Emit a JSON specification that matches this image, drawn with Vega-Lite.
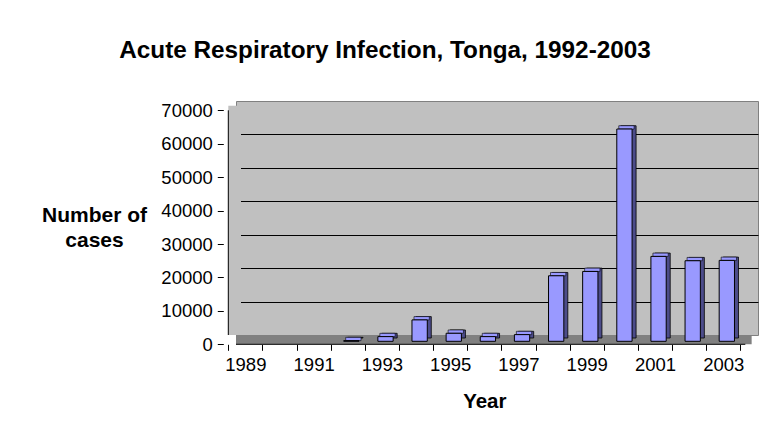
{
  "$schema": "https://vega.github.io/schema/vega-lite/v6.json",
  "width": 522,
  "height": 234,
  "autosize": {"type": "none"},
  "padding": {"left": 236, "top": 101, "right": 16, "bottom": 98},
  "background": "white",
  "config": {
    "font": "Liberation Sans",
    "view": {"fill": "#C0C0C0", "stroke": "#808080", "strokeWidth": 1}
  },
  "title": {
    "text": "Acute Respiratory Infection, Tonga, 1992-2003",
    "font": "Liberation Sans",
    "fontSize": 24.3,
    "fontWeight": "bold",
    "color": "black",
    "anchor": "middle",
    "frame": "group",
    "dx": -112,
    "offset": 36
  },
  "data": {
    "values": [
      {"year": 1992, "cases": 200},
      {"year": 1993, "cases": 1400},
      {"year": 1994, "cases": 6400},
      {"year": 1995, "cases": 2400},
      {"year": 1996, "cases": 1400},
      {"year": 1997, "cases": 2000},
      {"year": 1998, "cases": 19600},
      {"year": 1999, "cases": 20900},
      {"year": 2000, "cases": 63500},
      {"year": 2001, "cases": 25400},
      {"year": 2002, "cases": 24100},
      {"year": 2003, "cases": 24200}
    ]
  },
  "resolve": {"axis": {"x": "independent", "y": "independent"}},
  "layer": [
    {
      "data": {"values": [{}]},
      "mark": {"type": "rule", "stroke": "#C0C0C0", "strokeWidth": 12.7, "xOffset": -6.35, "yOffset": 4.65, "y2Offset": 4.65},
      "encoding": {
        "x": {"datum": 1988.5, "type": "quantitative", "scale": {"domain": [1988.5, 2003.5], "nice": false, "zero": false}, "axis": null}
      }
    },
    {
      "data": {"values": [{}]},
      "mark": {"type": "rule", "stroke": "#808080", "strokeWidth": 9.3, "yOffset": 4.65, "xOffset": -6.35, "x2Offset": -6.35},
      "encoding": {
        "y": {"datum": 0, "type": "quantitative", "scale": {"domain": [0, 70000], "nice": false}, "axis": null}
      }
    },
    {
      "data": {"values": [{}]},
      "mark": {"type": "rule", "stroke": "black", "strokeWidth": 1, "yOffset": 9.3, "xOffset": -12.7, "x2Offset": -12.7},
      "encoding": {
        "y": {"datum": 0, "type": "quantitative", "axis": null}
      }
    },
    {
      "data": {"values": [{}]},
      "mark": {"type": "rule", "stroke": "black", "strokeWidth": 1, "xOffset": -12.7, "yOffset": 9.3, "y2Offset": 9.3},
      "encoding": {
        "x": {"datum": 1988.5, "type": "quantitative", "axis": null}
      }
    },
    {
      "mark": {"type": "bar", "width": 15.3, "fill": "#4C4C8A", "stroke": "black", "strokeWidth": 0.8, "xOffset": -5.1, "yOffset": 3.0, "y2Offset": 3.0},
      "encoding": {
        "x": {
          "field": "year", "type": "quantitative",
          "scale": {"domain": [1988.5, 2003.5], "nice": false, "zero": false},
          "axis": {
            "orient": "bottom",
            "values": [1988.5, 1989.5, 1990.5, 1991.5, 1992.5, 1993.5, 1994.5, 1995.5, 1996.5, 1997.5, 1998.5, 1999.5, 2000.5, 2001.5, 2002.5, 2003.5],
            "labels": false, "domain": false, "grid": false,
            "ticks": true, "tickSize": 6, "tickColor": "black", "tickWidth": 1,
            "offset": 9.3, "tickOffset": -12.7, "title": null
          }
        },
        "y": {
          "field": "cases", "type": "quantitative",
          "scale": {"domain": [0, 70000], "nice": false},
          "axis": {
            "orient": "left",
            "values": [10000, 20000, 30000, 40000, 50000, 60000],
            "grid": true, "gridColor": "black", "gridWidth": 1, "gridOpacity": 1,
            "labels": false, "ticks": false, "domain": false, "title": null
          }
        }
      }
    },
    {
      "mark": {"type": "bar", "width": 15.3, "fill": "#9999FF", "stroke": "black", "strokeWidth": 0.6, "xOffset": -7.1, "yOffset": 3.0, "y2Offset": 6.3},
      "encoding": {
        "x": {
          "field": "year", "type": "quantitative",
          "axis": {
            "orient": "bottom",
            "values": [1989, 1991, 1993, 1995, 1997, 1999, 2001, 2003],
            "format": "d",
            "ticks": false, "tickSize": 0, "domain": false, "grid": false,
            "offset": 9.3, "tickOffset": -12.7,
            "labelPadding": 11.5, "labelFontSize": 18.5, "labelColor": "black",
            "labelFlush": false, "labelOverlap": false, "labelFont": "Liberation Sans",
            "title": "Year", "titleFontSize": 20.5, "titleFontWeight": "bold", "titleColor": "black",
            "titleFont": "Liberation Sans",
            "titleX": 248.3, "titleY": 62.7, "titleAlign": "center", "titleBaseline": "alphabetic"
          }
        },
        "y": {"field": "cases", "type": "quantitative", "axis": null},
        "y2": {"field": "cases"}
      }
    },
    {
      "mark": {"type": "bar", "width": 15.3, "fill": "#9999FF", "stroke": "black", "strokeWidth": 1, "xOffset": -9.1, "yOffset": 6.3, "y2Offset": 6.3},
      "encoding": {
        "x": {"field": "year", "type": "quantitative", "axis": null},
        "y": {
          "field": "cases", "type": "quantitative",
          "axis": {
            "orient": "left",
            "values": [0, 10000, 20000, 30000, 40000, 50000, 60000, 70000],
            "format": "d",
            "offset": 12.7, "tickOffset": 9.3,
            "tickSize": 6, "tickColor": "black", "tickWidth": 1,
            "domain": false, "grid": false,
            "labelPadding": 5, "labelFontSize": 18.5, "labelColor": "black", "labelFont": "Liberation Sans",
            "title": ["Number of", "cases"],
            "titleFont": "Liberation Sans",
            "titleAngle": 0, "titleAlign": "center", "titleBaseline": "top",
            "titleX": -129.3, "titleY": 103,
            "titleFontSize": 21, "titleFontWeight": "bold", "titleColor": "black",
            "titleLineHeight": 25
          }
        }
      }
    }
  ]
}
